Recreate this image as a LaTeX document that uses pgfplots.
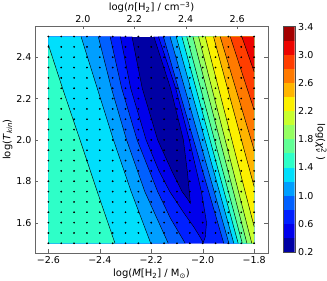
\documentclass[border=0pt]{standalone}
\usepackage{fontspec}
\setmainfont{DejaVu Sans}
\usepackage{pgfplots}
\pgfplotsset{compat=1.18}
\definecolor{c0}{rgb}{0,0,0.642}
\definecolor{c1}{rgb}{0,0,0.926}
\definecolor{c2}{rgb}{0,0.125,1}
\definecolor{c3}{rgb}{0,0.375,1}
\definecolor{c4}{rgb}{0,0.625,1}
\definecolor{c5}{rgb}{0,0.875,0.988}
\definecolor{c6}{rgb}{0.181,1,0.786}
\definecolor{c7}{rgb}{0.383,1,0.585}
\definecolor{c8}{rgb}{0.585,1,0.383}
\definecolor{c9}{rgb}{0.786,1,0.181}
\definecolor{c10}{rgb}{0.988,0.94,0}
\definecolor{c11}{rgb}{1,0.708,0}
\definecolor{c12}{rgb}{1,0.477,0}
\definecolor{c13}{rgb}{1,0.245,0}
\definecolor{c14}{rgb}{0.926,0.014,0}
\definecolor{c15}{rgb}{0.642,0,0}
\tikzset{
  tickfont/.style={font=\fontsize{9.5}{11}\selectfont},
  labfont/.style={font=\fontsize{10}{12}\selectfont},
}
\begin{document}
\begin{tikzpicture}
\path[use as bounding box] (0,0) rectangle (327pt,281pt);
% main axis
\begin{axis}[
  at={(35pt,28pt)}, anchor=south west,
  width=233pt, height=227pt, scale only axis,
  xmin=-2.652, xmax=-1.746, ymin=1.453, ymax=2.551,
  axis on top,
  axis line style={black!60},
  tick style={black!60},
  tick align=inside, major tick length=3.5pt,
  xtick pos=left,
  xtick={-2.6,-2.4,-2.2,-2.0,-1.8},
  xticklabels={−2.6,−2.4,−2.2,−2.0,−1.8},
  ytick={1.6,1.8,2.0,2.2,2.4},
  yticklabels={1.6,1.8,2.0,2.2,2.4},
  tick label style={tickfont},
  xlabel={log(\textit{M}[H\textsubscript{2}] / M\textsubscript{⊙})},
  ylabel={log(\textit{T}\textsubscript{\textit{kin}})},
  xlabel style={labfont, at={(axis description cs:0.5,-0.0925)}, anchor=center},
  ylabel style={labfont, at={(axis description cs:-0.118,0.5)}, anchor=center},
]
% base
\addplot[fill=c0, draw=none] coordinates {(-2.6,2.5)(-2.6,1.5)(-1.8,1.5)(-1.8,2.5)} -- cycle;
% z > 0.4
\addplot[fill=c1, draw=none] coordinates {(-2.6,2.5)(-2.6,1.5)(-1.8,1.5)(-1.8,2.5)(-2.19,2.5)(-2.125,2.25)(-2.075,2.0)(-2.06,1.85)(-2.052,1.75)(-2.048,1.694)(-2.062,1.72)(-2.08,1.75)(-2.12,1.85)(-2.175,2.0)(-2.235,2.25)(-2.275,2.5)} -- cycle;
% z > 0.6
\addplot[fill=c2, draw=none] coordinates {(-2.6,2.5)(-2.6,1.5)(-1.8,1.5)(-1.8,2.5)(-2.172,2.5)(-2.105,2.25)(-2.052,2.0)(-2.005,1.75)(-1.985,1.6)(-1.99,1.53)(-1.998,1.503)(-2.01,1.53)(-2.035,1.58)(-2.075,1.65)(-2.128,1.75)(-2.17,1.85)(-2.22,2.0)(-2.28,2.25)(-2.32,2.5)} -- cycle;
% z > 0.8
\addplot[fill=c3, draw=none] coordinates {(-2.6,2.5)(-2.36,2.5)(-2.315,2.25)(-2.255,2.0)(-2.175,1.75)(-2.125,1.62)(-2.068,1.5)(-2.6,1.5)} -- cycle;
\addplot[fill=c3, draw=none] coordinates {(-2.153,2.5)(-1.8,2.5)(-1.8,1.5)(-1.918,1.5)} -- cycle;
% z > 1.0
\addplot[fill=c4, draw=none] coordinates {(-2.6,2.5)(-2.406,2.5)(-2.355,2.25)(-2.296,2.0)(-2.225,1.75)(-2.134,1.5)(-2.6,1.5)} -- cycle;
\addplot[fill=c4, draw=none] coordinates {(-2.127,2.5)(-1.8,2.5)(-1.8,1.5)(-1.898,1.5)} -- cycle;
% z > 1.2
\addplot[fill=c5, draw=none] coordinates {(-2.6,2.5)(-2.473,2.5)(-2.41,2.25)(-2.347,2.0)(-2.278,1.75)(-2.202,1.5)(-2.6,1.5)} -- cycle;
\addplot[fill=c5, draw=none] coordinates {(-2.103,2.5)(-1.8,2.5)(-1.8,1.5)(-1.879,1.5)} -- cycle;
% z > 1.4
\addplot[fill=c6, draw=none] coordinates {(-2.6,2.46)(-2.545,2.25)(-2.477,2.0)(-2.41,1.75)(-2.341,1.5)(-2.6,1.5)} -- cycle;
\addplot[fill=c6, draw=none] coordinates {(-2.081,2.5)(-1.8,2.5)(-1.8,1.5)(-1.862,1.5)} -- cycle;
% z > 1.6 ... 3.0
\addplot[fill=c7, draw=none] coordinates {(-2.062,2.5)(-1.8,2.5)(-1.8,1.5)(-1.846,1.5)} -- cycle;
\addplot[fill=c8, draw=none] coordinates {(-2.038,2.5)(-1.8,2.5)(-1.8,1.5)(-1.828,1.5)} -- cycle;
\addplot[fill=c9, draw=none] coordinates {(-2.016,2.5)(-1.8,2.5)(-1.8,1.5)(-1.809,1.5)} -- cycle;
\addplot[fill=c10, draw=none] coordinates {(-1.990,2.5)(-1.8,2.5)(-1.8,1.581)} -- cycle;
\addplot[fill=c11, draw=none] coordinates {(-1.958,2.5)(-1.8,2.5)(-1.8,1.774)} -- cycle;
\addplot[fill=c12, draw=none] coordinates {(-1.932,2.5)(-1.8,2.5)(-1.8,1.952)} -- cycle;
\addplot[fill=c13, draw=none] coordinates {(-1.893,2.5)(-1.8,2.5)(-1.8,2.145)} -- cycle;
\addplot[fill=c14, draw=none] coordinates {(-1.848,2.5)(-1.8,2.5)(-1.8,2.33)} -- cycle;
% contour lines
\pgfplotsset{cl/.style={black, line width=0.45pt}}
\addplot[cl] coordinates {(-2.275,2.5)(-2.235,2.25)(-2.175,2.0)(-2.12,1.85)(-2.08,1.75)(-2.062,1.72)(-2.048,1.694)(-2.052,1.75)(-2.06,1.85)(-2.075,2.0)(-2.125,2.25)(-2.19,2.5)};
\addplot[cl] coordinates {(-2.32,2.5)(-2.28,2.25)(-2.22,2.0)(-2.17,1.85)(-2.128,1.75)(-2.075,1.65)(-2.035,1.58)(-2.01,1.53)(-1.998,1.503)(-1.99,1.53)(-1.985,1.6)(-2.005,1.75)(-2.052,2.0)(-2.105,2.25)(-2.172,2.5)};
\addplot[cl] coordinates {(-2.36,2.5)(-2.315,2.25)(-2.255,2.0)(-2.175,1.75)(-2.125,1.62)(-2.068,1.5)};
\addplot[cl] coordinates {(-2.406,2.5)(-2.355,2.25)(-2.296,2.0)(-2.225,1.75)(-2.134,1.5)};
\addplot[cl] coordinates {(-2.473,2.5)(-2.41,2.25)(-2.347,2.0)(-2.278,1.75)(-2.202,1.5)};
\addplot[cl] coordinates {(-2.6,2.46)(-2.545,2.25)(-2.477,2.0)(-2.41,1.75)(-2.341,1.5)};
\addplot[cl] coordinates {(-2.153,2.5)(-1.918,1.5)};
\addplot[cl] coordinates {(-2.127,2.5)(-1.898,1.5)};
\addplot[cl] coordinates {(-2.103,2.5)(-1.879,1.5)};
\addplot[cl] coordinates {(-2.081,2.5)(-1.862,1.5)};
\addplot[cl] coordinates {(-2.062,2.5)(-1.846,1.5)};
\addplot[cl] coordinates {(-2.038,2.5)(-1.828,1.5)};
\addplot[cl] coordinates {(-2.016,2.5)(-1.809,1.5)};
\addplot[cl] coordinates {(-1.990,2.5)(-1.8,1.581)};
\addplot[cl] coordinates {(-1.958,2.5)(-1.8,1.774)};
\addplot[cl] coordinates {(-1.932,2.5)(-1.8,1.952)};
\addplot[cl] coordinates {(-1.893,2.5)(-1.8,2.145)};
\addplot[cl] coordinates {(-1.848,2.5)(-1.8,2.33)};
% grid of model points
\addplot[only marks, mark=*, mark size=0.65pt, mark options={fill=black, draw=none}] coordinates {
(-2.6,1.5)(-2.55,1.5)(-2.5,1.5)(-2.45,1.5)(-2.4,1.5)(-2.35,1.5)(-2.3,1.5)(-2.25,1.5)(-2.2,1.5)(-2.15,1.5)(-2.1,1.5)(-2.05,1.5)(-2,1.5)(-1.95,1.5)(-1.9,1.5)(-1.85,1.5)(-1.8,1.5)
(-2.6,1.55)(-2.55,1.55)(-2.5,1.55)(-2.45,1.55)(-2.4,1.55)(-2.35,1.55)(-2.3,1.55)(-2.25,1.55)(-2.2,1.55)(-2.15,1.55)(-2.1,1.55)(-2.05,1.55)(-2,1.55)(-1.95,1.55)(-1.9,1.55)(-1.85,1.55)(-1.8,1.55)
(-2.6,1.6)(-2.55,1.6)(-2.5,1.6)(-2.45,1.6)(-2.4,1.6)(-2.35,1.6)(-2.3,1.6)(-2.25,1.6)(-2.2,1.6)(-2.15,1.6)(-2.1,1.6)(-2.05,1.6)(-2,1.6)(-1.95,1.6)(-1.9,1.6)(-1.85,1.6)(-1.8,1.6)
(-2.6,1.65)(-2.55,1.65)(-2.5,1.65)(-2.45,1.65)(-2.4,1.65)(-2.35,1.65)(-2.3,1.65)(-2.25,1.65)(-2.2,1.65)(-2.15,1.65)(-2.1,1.65)(-2.05,1.65)(-2,1.65)(-1.95,1.65)(-1.9,1.65)(-1.85,1.65)(-1.8,1.65)
(-2.6,1.7)(-2.55,1.7)(-2.5,1.7)(-2.45,1.7)(-2.4,1.7)(-2.35,1.7)(-2.3,1.7)(-2.25,1.7)(-2.2,1.7)(-2.15,1.7)(-2.1,1.7)(-2.05,1.7)(-2,1.7)(-1.95,1.7)(-1.9,1.7)(-1.85,1.7)(-1.8,1.7)
(-2.6,1.75)(-2.55,1.75)(-2.5,1.75)(-2.45,1.75)(-2.4,1.75)(-2.35,1.75)(-2.3,1.75)(-2.25,1.75)(-2.2,1.75)(-2.15,1.75)(-2.1,1.75)(-2.05,1.75)(-2,1.75)(-1.95,1.75)(-1.9,1.75)(-1.85,1.75)(-1.8,1.75)
(-2.6,1.8)(-2.55,1.8)(-2.5,1.8)(-2.45,1.8)(-2.4,1.8)(-2.35,1.8)(-2.3,1.8)(-2.25,1.8)(-2.2,1.8)(-2.15,1.8)(-2.1,1.8)(-2.05,1.8)(-2,1.8)(-1.95,1.8)(-1.9,1.8)(-1.85,1.8)(-1.8,1.8)
(-2.6,1.85)(-2.55,1.85)(-2.5,1.85)(-2.45,1.85)(-2.4,1.85)(-2.35,1.85)(-2.3,1.85)(-2.25,1.85)(-2.2,1.85)(-2.15,1.85)(-2.1,1.85)(-2.05,1.85)(-2,1.85)(-1.95,1.85)(-1.9,1.85)(-1.85,1.85)(-1.8,1.85)
(-2.6,1.9)(-2.55,1.9)(-2.5,1.9)(-2.45,1.9)(-2.4,1.9)(-2.35,1.9)(-2.3,1.9)(-2.25,1.9)(-2.2,1.9)(-2.15,1.9)(-2.1,1.9)(-2.05,1.9)(-2,1.9)(-1.95,1.9)(-1.9,1.9)(-1.85,1.9)(-1.8,1.9)
(-2.6,1.95)(-2.55,1.95)(-2.5,1.95)(-2.45,1.95)(-2.4,1.95)(-2.35,1.95)(-2.3,1.95)(-2.25,1.95)(-2.2,1.95)(-2.15,1.95)(-2.1,1.95)(-2.05,1.95)(-2,1.95)(-1.95,1.95)(-1.9,1.95)(-1.85,1.95)(-1.8,1.95)
(-2.6,2.0)(-2.55,2.0)(-2.5,2.0)(-2.45,2.0)(-2.4,2.0)(-2.35,2.0)(-2.3,2.0)(-2.25,2.0)(-2.2,2.0)(-2.15,2.0)(-2.1,2.0)(-2.05,2.0)(-2,2.0)(-1.95,2.0)(-1.9,2.0)(-1.85,2.0)(-1.8,2.0)
(-2.6,2.05)(-2.55,2.05)(-2.5,2.05)(-2.45,2.05)(-2.4,2.05)(-2.35,2.05)(-2.3,2.05)(-2.25,2.05)(-2.2,2.05)(-2.15,2.05)(-2.1,2.05)(-2.05,2.05)(-2,2.05)(-1.95,2.05)(-1.9,2.05)(-1.85,2.05)(-1.8,2.05)
(-2.6,2.1)(-2.55,2.1)(-2.5,2.1)(-2.45,2.1)(-2.4,2.1)(-2.35,2.1)(-2.3,2.1)(-2.25,2.1)(-2.2,2.1)(-2.15,2.1)(-2.1,2.1)(-2.05,2.1)(-2,2.1)(-1.95,2.1)(-1.9,2.1)(-1.85,2.1)(-1.8,2.1)
(-2.6,2.15)(-2.55,2.15)(-2.5,2.15)(-2.45,2.15)(-2.4,2.15)(-2.35,2.15)(-2.3,2.15)(-2.25,2.15)(-2.2,2.15)(-2.15,2.15)(-2.1,2.15)(-2.05,2.15)(-2,2.15)(-1.95,2.15)(-1.9,2.15)(-1.85,2.15)(-1.8,2.15)
(-2.6,2.2)(-2.55,2.2)(-2.5,2.2)(-2.45,2.2)(-2.4,2.2)(-2.35,2.2)(-2.3,2.2)(-2.25,2.2)(-2.2,2.2)(-2.15,2.2)(-2.1,2.2)(-2.05,2.2)(-2,2.2)(-1.95,2.2)(-1.9,2.2)(-1.85,2.2)(-1.8,2.2)
(-2.6,2.25)(-2.55,2.25)(-2.5,2.25)(-2.45,2.25)(-2.4,2.25)(-2.35,2.25)(-2.3,2.25)(-2.25,2.25)(-2.2,2.25)(-2.15,2.25)(-2.1,2.25)(-2.05,2.25)(-2,2.25)(-1.95,2.25)(-1.9,2.25)(-1.85,2.25)(-1.8,2.25)
(-2.6,2.3)(-2.55,2.3)(-2.5,2.3)(-2.45,2.3)(-2.4,2.3)(-2.35,2.3)(-2.3,2.3)(-2.25,2.3)(-2.2,2.3)(-2.15,2.3)(-2.1,2.3)(-2.05,2.3)(-2,2.3)(-1.95,2.3)(-1.9,2.3)(-1.85,2.3)(-1.8,2.3)
(-2.6,2.35)(-2.55,2.35)(-2.5,2.35)(-2.45,2.35)(-2.4,2.35)(-2.35,2.35)(-2.3,2.35)(-2.25,2.35)(-2.2,2.35)(-2.15,2.35)(-2.1,2.35)(-2.05,2.35)(-2,2.35)(-1.95,2.35)(-1.9,2.35)(-1.85,2.35)(-1.8,2.35)
(-2.6,2.4)(-2.55,2.4)(-2.5,2.4)(-2.45,2.4)(-2.4,2.4)(-2.35,2.4)(-2.3,2.4)(-2.25,2.4)(-2.2,2.4)(-2.15,2.4)(-2.1,2.4)(-2.05,2.4)(-2,2.4)(-1.95,2.4)(-1.9,2.4)(-1.85,2.4)(-1.8,2.4)
(-2.6,2.45)(-2.55,2.45)(-2.5,2.45)(-2.45,2.45)(-2.4,2.45)(-2.35,2.45)(-2.3,2.45)(-2.25,2.45)(-2.2,2.45)(-2.15,2.45)(-2.1,2.45)(-2.05,2.45)(-2,2.45)(-1.95,2.45)(-1.9,2.45)(-1.85,2.45)(-1.8,2.45)
(-2.6,2.5)(-2.55,2.5)(-2.5,2.5)(-2.45,2.5)(-2.4,2.5)(-2.35,2.5)(-2.3,2.5)(-2.25,2.5)(-2.2,2.5)(-2.15,2.5)(-2.1,2.5)(-2.05,2.5)(-2,2.5)(-1.95,2.5)(-1.9,2.5)(-1.85,2.5)(-1.8,2.5)
};
\end{axis}
% top axis: log n
\begin{axis}[
  at={(35pt,28pt)}, anchor=south west,
  width=233pt, height=227pt, scale only axis,
  xmin=1.814, xmax=2.720, ymin=1.453, ymax=2.551,
  axis x line*=top, axis y line=none,
  axis line style={black!60},
  tick style={black!60},
  tick align=inside, major tick length=3.5pt,
  xtick={2.0,2.2,2.4,2.6},
  xticklabels={2.0,2.2,2.4,2.6},
  tick label style={tickfont},
  xlabel={log(\textit{n}[H\textsubscript{2}] / cm\textsuperscript{−3})},
  xlabel style={labfont, at={(axis description cs:0.5,1.0815)}, anchor=center},
]
\addplot[draw=none] coordinates {(2.0,2.0)};
\end{axis}
% colour bar
\begin{axis}[
  at={(283.3pt,29pt)}, anchor=south west,
  width=11.4pt, height=225.3pt, scale only axis,
  xmin=0, xmax=1, ymin=0.2, ymax=3.4,
  axis on top,
  axis line style={black!70},
  xtick=\empty,
  ytick={0.2,0.6,1.0,1.4,1.8,2.2,2.6,3.0,3.4},
  yticklabels={0.2,0.6,1.0,1.4,1.8,2.2,2.6,3.0,3.4},
  yticklabel pos=right, ytick pos=right,
  major tick length=0pt,
  tick label style={tickfont},
]
\addplot[fill=c0, draw=none] coordinates {(0,0.2)(1,0.2)(1,0.4)(0,0.4)} -- cycle;
\addplot[fill=c1, draw=none] coordinates {(0,0.4)(1,0.4)(1,0.6)(0,0.6)} -- cycle;
\addplot[fill=c2, draw=none] coordinates {(0,0.6)(1,0.6)(1,0.8)(0,0.8)} -- cycle;
\addplot[fill=c3, draw=none] coordinates {(0,0.8)(1,0.8)(1,1.0)(0,1.0)} -- cycle;
\addplot[fill=c4, draw=none] coordinates {(0,1.0)(1,1.0)(1,1.2)(0,1.2)} -- cycle;
\addplot[fill=c5, draw=none] coordinates {(0,1.2)(1,1.2)(1,1.4)(0,1.4)} -- cycle;
\addplot[fill=c6, draw=none] coordinates {(0,1.4)(1,1.4)(1,1.6)(0,1.6)} -- cycle;
\addplot[fill=c7, draw=none] coordinates {(0,1.6)(1,1.6)(1,1.8)(0,1.8)} -- cycle;
\addplot[fill=c8, draw=none] coordinates {(0,1.8)(1,1.8)(1,2.0)(0,2.0)} -- cycle;
\addplot[fill=c9, draw=none] coordinates {(0,2.0)(1,2.0)(1,2.2)(0,2.2)} -- cycle;
\addplot[fill=c10, draw=none] coordinates {(0,2.2)(1,2.2)(1,2.4)(0,2.4)} -- cycle;
\addplot[fill=c11, draw=none] coordinates {(0,2.4)(1,2.4)(1,2.6)(0,2.6)} -- cycle;
\addplot[fill=c12, draw=none] coordinates {(0,2.6)(1,2.6)(1,2.8)(0,2.8)} -- cycle;
\addplot[fill=c13, draw=none] coordinates {(0,2.8)(1,2.8)(1,3.0)(0,3.0)} -- cycle;
\addplot[fill=c14, draw=none] coordinates {(0,3.0)(1,3.0)(1,3.2)(0,3.2)} -- cycle;
\addplot[fill=c15, draw=none] coordinates {(0,3.2)(1,3.2)(1,3.4)(0,3.4)} -- cycle;
\end{axis}
\node[rotate=-90, font=\fontsize{10}{12}\selectfont] at (321pt,139pt) {log(\textit{χ}\rlap{\textsuperscript{2}}\textsubscript{\textit{ν}}\hspace{0.35em})};
\end{tikzpicture}
\end{document}
